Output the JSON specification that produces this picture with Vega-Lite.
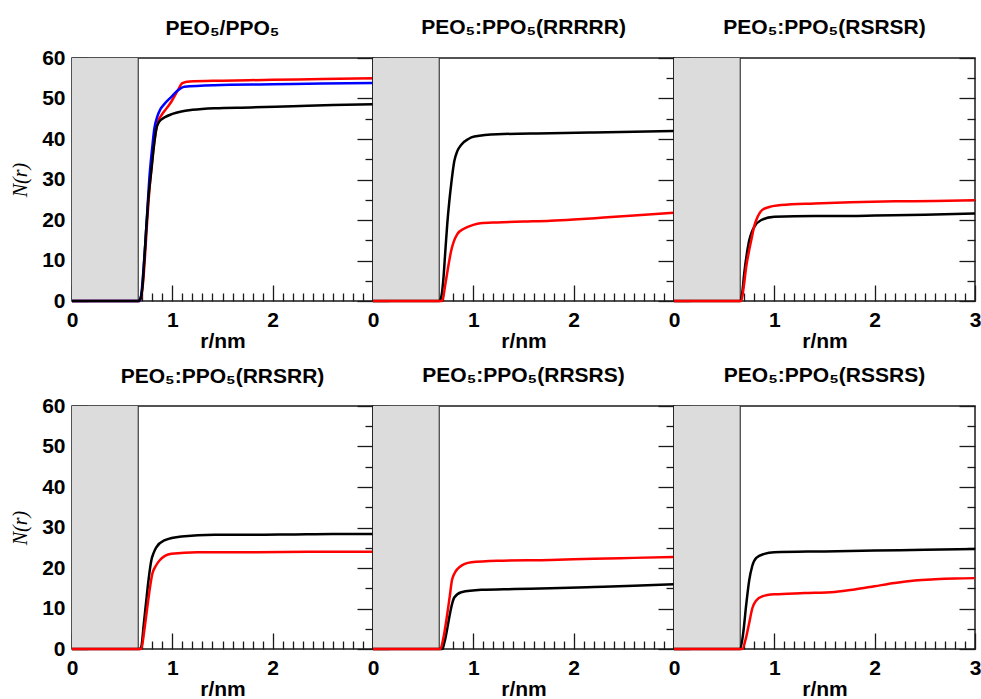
{
  "$schema": "https://vega.github.io/schema/vega-lite/v6.json",
  "bounds": "flush",
  "columns": 3,
  "spacing": {"row": 105, "column": 0},
  "padding": {"left": 9, "top": 16, "right": 0, "bottom": 0},
  "datasets": {
    "excluded": [{"lo": 0, "hi": 0.66}],
    "curves": [
      {"p":1,"s":"set2","r":0,"n":0},{"p":1,"s":"set2","r":0.67,"n":0},{"p":1,"s":"set2","r":0.69,"n":1},{"p":1,"s":"set2","r":0.71,"n":5},{"p":1,"s":"set2","r":0.73,"n":12},{"p":1,"s":"set2","r":0.75,"n":20},{"p":1,"s":"set2","r":0.77,"n":27},{"p":1,"s":"set2","r":0.8,"n":35},{"p":1,"s":"set2","r":0.83,"n":41},{"p":1,"s":"set2","r":0.86,"n":44.5},{"p":1,"s":"set2","r":0.89,"n":45.8},{"p":1,"s":"set2","r":0.94,"n":47.5},{"p":1,"s":"set2","r":0.99,"n":49.2},{"p":1,"s":"set2","r":1.05,"n":51.8},{"p":1,"s":"set2","r":1.1,"n":53.8},{"p":1,"s":"set2","r":1.17,"n":54.2},{"p":1,"s":"set2","r":1.5,"n":54.4},{"p":1,"s":"set2","r":2.0,"n":54.6},{"p":1,"s":"set2","r":2.5,"n":54.8},{"p":1,"s":"set2","r":3.0,"n":55.0},
      {"p":1,"s":"set3","r":0,"n":0},{"p":1,"s":"set3","r":0.67,"n":0},{"p":1,"s":"set3","r":0.69,"n":1.5},{"p":1,"s":"set3","r":0.71,"n":7},{"p":1,"s":"set3","r":0.73,"n":14},{"p":1,"s":"set3","r":0.75,"n":22},{"p":1,"s":"set3","r":0.77,"n":30},{"p":1,"s":"set3","r":0.8,"n":38},{"p":1,"s":"set3","r":0.82,"n":42.5},{"p":1,"s":"set3","r":0.85,"n":45.5},{"p":1,"s":"set3","r":0.88,"n":47.3},{"p":1,"s":"set3","r":0.92,"n":48.6},{"p":1,"s":"set3","r":0.99,"n":50.4},{"p":1,"s":"set3","r":1.05,"n":51.9},{"p":1,"s":"set3","r":1.12,"n":52.9},{"p":1,"s":"set3","r":1.42,"n":53.3},{"p":1,"s":"set3","r":2.0,"n":53.5},{"p":1,"s":"set3","r":2.5,"n":53.7},{"p":1,"s":"set3","r":3.0,"n":53.8},
      {"p":1,"s":"set1","r":0,"n":0},{"p":1,"s":"set1","r":0.66,"n":0},{"p":1,"s":"set1","r":0.68,"n":0.5},{"p":1,"s":"set1","r":0.7,"n":3},{"p":1,"s":"set1","r":0.72,"n":10},{"p":1,"s":"set1","r":0.74,"n":18},{"p":1,"s":"set1","r":0.76,"n":25},{"p":1,"s":"set1","r":0.79,"n":32},{"p":1,"s":"set1","r":0.82,"n":39},{"p":1,"s":"set1","r":0.84,"n":42.5},{"p":1,"s":"set1","r":0.87,"n":44.3},{"p":1,"s":"set1","r":0.92,"n":45.3},{"p":1,"s":"set1","r":1.0,"n":46.2},{"p":1,"s":"set1","r":1.09,"n":46.8},{"p":1,"s":"set1","r":1.2,"n":47.2},{"p":1,"s":"set1","r":1.42,"n":47.6},{"p":1,"s":"set1","r":1.78,"n":47.8},{"p":1,"s":"set1","r":2.2,"n":48.1},{"p":1,"s":"set1","r":2.6,"n":48.4},{"p":1,"s":"set1","r":3.0,"n":48.6},
      {"p":2,"s":"set1","r":0,"n":0},{"p":2,"s":"set1","r":0.66,"n":0},{"p":2,"s":"set1","r":0.68,"n":1},{"p":2,"s":"set1","r":0.7,"n":5},{"p":2,"s":"set1","r":0.72,"n":12},{"p":2,"s":"set1","r":0.74,"n":19},{"p":2,"s":"set1","r":0.76,"n":24.5},{"p":2,"s":"set1","r":0.78,"n":29},{"p":2,"s":"set1","r":0.81,"n":34.5},{"p":2,"s":"set1","r":0.84,"n":37},{"p":2,"s":"set1","r":0.88,"n":38.6},{"p":2,"s":"set1","r":0.95,"n":40},{"p":2,"s":"set1","r":1.01,"n":40.6},{"p":2,"s":"set1","r":1.24,"n":41.2},{"p":2,"s":"set1","r":1.77,"n":41.4},{"p":2,"s":"set1","r":2.2,"n":41.6},{"p":2,"s":"set1","r":2.6,"n":41.8},{"p":2,"s":"set1","r":3.0,"n":42.0},
      {"p":2,"s":"set2","r":0,"n":0},{"p":2,"s":"set2","r":0.69,"n":0},{"p":2,"s":"set2","r":0.72,"n":4},{"p":2,"s":"set2","r":0.75,"n":8.5},{"p":2,"s":"set2","r":0.78,"n":12.5},{"p":2,"s":"set2","r":0.8,"n":14.3},{"p":2,"s":"set2","r":0.84,"n":16.5},{"p":2,"s":"set2","r":0.91,"n":17.9},{"p":2,"s":"set2","r":1.0,"n":18.8},{"p":2,"s":"set2","r":1.07,"n":19.2},{"p":2,"s":"set2","r":1.24,"n":19.4},{"p":2,"s":"set2","r":1.5,"n":19.6},{"p":2,"s":"set2","r":1.77,"n":19.8},{"p":2,"s":"set2","r":2.0,"n":20.1},{"p":2,"s":"set2","r":2.3,"n":20.6},{"p":2,"s":"set2","r":2.6,"n":21.1},{"p":2,"s":"set2","r":3.0,"n":21.8},
      {"p":3,"s":"set1","r":0,"n":0},{"p":3,"s":"set1","r":0.66,"n":0},{"p":3,"s":"set1","r":0.68,"n":2},{"p":3,"s":"set1","r":0.7,"n":6.8},{"p":3,"s":"set1","r":0.725,"n":11.5},{"p":3,"s":"set1","r":0.75,"n":15},{"p":3,"s":"set1","r":0.775,"n":17},{"p":3,"s":"set1","r":0.8,"n":18.3},{"p":3,"s":"set1","r":0.87,"n":20},{"p":3,"s":"set1","r":1.0,"n":20.8},{"p":3,"s":"set1","r":1.4,"n":21.0},{"p":3,"s":"set1","r":1.76,"n":21.0},{"p":3,"s":"set1","r":2.0,"n":21.1},{"p":3,"s":"set1","r":2.5,"n":21.3},{"p":3,"s":"set1","r":3.0,"n":21.6},
      {"p":3,"s":"set2","r":0,"n":0},{"p":3,"s":"set2","r":0.67,"n":0},{"p":3,"s":"set2","r":0.695,"n":3.5},{"p":3,"s":"set2","r":0.72,"n":8.5},{"p":3,"s":"set2","r":0.745,"n":12},{"p":3,"s":"set2","r":0.77,"n":15},{"p":3,"s":"set2","r":0.8,"n":18.5},{"p":3,"s":"set2","r":0.82,"n":20},{"p":3,"s":"set2","r":0.85,"n":21.6},{"p":3,"s":"set2","r":0.88,"n":22.5},{"p":3,"s":"set2","r":0.95,"n":23.2},{"p":3,"s":"set2","r":1.07,"n":23.7},{"p":3,"s":"set2","r":1.4,"n":24.1},{"p":3,"s":"set2","r":1.76,"n":24.4},{"p":3,"s":"set2","r":2.2,"n":24.6},{"p":3,"s":"set2","r":2.6,"n":24.7},{"p":3,"s":"set2","r":3.0,"n":24.9},
      {"p":4,"s":"set1","r":0,"n":0},{"p":4,"s":"set1","r":0.67,"n":0},{"p":4,"s":"set1","r":0.69,"n":0.5},{"p":4,"s":"set1","r":0.715,"n":6},{"p":4,"s":"set1","r":0.74,"n":11.9},{"p":4,"s":"set1","r":0.765,"n":17.5},{"p":4,"s":"set1","r":0.79,"n":21.8},{"p":4,"s":"set1","r":0.815,"n":23.8},{"p":4,"s":"set1","r":0.84,"n":25.1},{"p":4,"s":"set1","r":0.92,"n":26.8},{"p":4,"s":"set1","r":1.09,"n":27.8},{"p":4,"s":"set1","r":1.42,"n":28.2},{"p":4,"s":"set1","r":1.78,"n":28.2},{"p":4,"s":"set1","r":2.2,"n":28.3},{"p":4,"s":"set1","r":2.6,"n":28.4},{"p":4,"s":"set1","r":3.0,"n":28.4},
      {"p":4,"s":"set2","r":0,"n":0},{"p":4,"s":"set2","r":0.69,"n":0},{"p":4,"s":"set2","r":0.72,"n":4.5},{"p":4,"s":"set2","r":0.75,"n":10.2},{"p":4,"s":"set2","r":0.775,"n":14.8},{"p":4,"s":"set2","r":0.8,"n":18.5},{"p":4,"s":"set2","r":0.835,"n":20.5},{"p":4,"s":"set2","r":0.87,"n":21.8},{"p":4,"s":"set2","r":0.99,"n":23.5},{"p":4,"s":"set2","r":1.25,"n":23.9},{"p":4,"s":"set2","r":1.8,"n":23.9},{"p":4,"s":"set2","r":2.4,"n":24.0},{"p":4,"s":"set2","r":3.0,"n":24.0},
      {"p":5,"s":"set1","r":0,"n":0},{"p":5,"s":"set1","r":0.69,"n":0},{"p":5,"s":"set1","r":0.72,"n":2.5},{"p":5,"s":"set1","r":0.76,"n":7.8},{"p":5,"s":"set1","r":0.785,"n":10.8},{"p":5,"s":"set1","r":0.81,"n":12.7},{"p":5,"s":"set1","r":0.88,"n":14.0},{"p":5,"s":"set1","r":1.08,"n":14.6},{"p":5,"s":"set1","r":1.41,"n":14.8},{"p":5,"s":"set1","r":1.77,"n":15.0},{"p":5,"s":"set1","r":2.2,"n":15.3},{"p":5,"s":"set1","r":2.6,"n":15.6},{"p":5,"s":"set1","r":3.0,"n":16.0},
      {"p":5,"s":"set2","r":0,"n":0},{"p":5,"s":"set2","r":0.67,"n":0},{"p":5,"s":"set2","r":0.7,"n":2.5},{"p":5,"s":"set2","r":0.74,"n":8.6},{"p":5,"s":"set2","r":0.765,"n":13},{"p":5,"s":"set2","r":0.79,"n":17.3},{"p":5,"s":"set2","r":0.86,"n":20.2},{"p":5,"s":"set2","r":0.98,"n":21.4},{"p":5,"s":"set2","r":1.24,"n":21.8},{"p":5,"s":"set2","r":1.77,"n":22.0},{"p":5,"s":"set2","r":2.2,"n":22.3},{"p":5,"s":"set2","r":2.6,"n":22.5},{"p":5,"s":"set2","r":3.0,"n":22.7},
      {"p":6,"s":"set1","r":0,"n":0},{"p":6,"s":"set1","r":0.66,"n":0},{"p":6,"s":"set1","r":0.69,"n":4},{"p":6,"s":"set1","r":0.72,"n":11},{"p":6,"s":"set1","r":0.75,"n":17},{"p":6,"s":"set1","r":0.78,"n":20.5},{"p":6,"s":"set1","r":0.82,"n":22.5},{"p":6,"s":"set1","r":0.9,"n":23.5},{"p":6,"s":"set1","r":1.0,"n":23.9},{"p":6,"s":"set1","r":1.5,"n":24.1},{"p":6,"s":"set1","r":2.0,"n":24.3},{"p":6,"s":"set1","r":2.5,"n":24.5},{"p":6,"s":"set1","r":3.0,"n":24.7},
      {"p":6,"s":"set2","r":0,"n":0},{"p":6,"s":"set2","r":0.68,"n":0},{"p":6,"s":"set2","r":0.72,"n":3},{"p":6,"s":"set2","r":0.75,"n":6.5},{"p":6,"s":"set2","r":0.78,"n":10},{"p":6,"s":"set2","r":0.82,"n":12},{"p":6,"s":"set2","r":0.88,"n":13},{"p":6,"s":"set2","r":1.0,"n":13.5},{"p":6,"s":"set2","r":1.3,"n":13.8},{"p":6,"s":"set2","r":1.6,"n":14.1},{"p":6,"s":"set2","r":1.8,"n":14.7},{"p":6,"s":"set2","r":2.0,"n":15.5},{"p":6,"s":"set2","r":2.2,"n":16.3},{"p":6,"s":"set2","r":2.4,"n":16.9},{"p":6,"s":"set2","r":2.6,"n":17.2},{"p":6,"s":"set2","r":2.8,"n":17.4},{"p":6,"s":"set2","r":3.0,"n":17.5}
    ]
  },
  "concat": [
    {
      "width": 301, "height": 243,
      "title": {"text": "PEO₅/PPO₅", "offset": 8},
      "layer": [
        {"data": {"name": "excluded"}, "mark": {"type": "rect", "color": "#dcdcdc"},
         "encoding": {
           "x": {"field": "lo", "type": "quantitative", "scale": {"domain": [0, 3]}, "axis": {"orient": "bottom", "title": "r/nm", "values": [0, 1, 2], "format": "d", "tickSize": -16, "labelPadding": 24, "labelOverlap": false, "labelFlush": false, "titlePadding": 0}},
           "x2": {"field": "hi"},
           "y": {"datum": 0, "type": "quantitative", "scale": {"domain": [0, 60]}, "axis": {"orient": "left", "title": "N(r)", "values": [0, 10, 20, 30, 40, 50, 60], "tickSize": -16, "labelPadding": 23, "labelOverlap": false, "labelFlush": false, "titleFont": "Liberation Serif", "titleFontStyle": "italic", "titleFontWeight": "normal", "titleFontSize": 20, "titlePadding": 11}},
           "y2": {"datum": 60}
         }},
        {"data": {"name": "excluded"}, "mark": {"type": "rule", "color": "#1a1a1a", "strokeWidth": 1},
         "encoding": {
           "x": {"field": "hi", "type": "quantitative", "axis": {"orient": "bottom", "title": null, "labels": false, "values": [0.1,0.2,0.3,0.4,0.5,0.6,0.7,0.8,0.9,1.1,1.2,1.3,1.4,1.5,1.6,1.7,1.8,1.9,2.1,2.2,2.3,2.4,2.5,2.6,2.7,2.8,2.9], "tickSize": -8}},
           "y": {"datum": 0, "type": "quantitative", "axis": {"orient": "left", "title": null, "labels": false, "values": [5, 15, 25, 35, 45, 55], "tickSize": -8}},
           "y2": {"datum": 60}
         }},
        {"data": {"name": "curves"}, "transform": [{"filter": "datum.p == 1 && datum.s != 'set1'"}],
         "mark": {"type": "line", "strokeWidth": 2.5, "interpolate": "monotone"},
         "encoding": {
           "x": {"field": "r", "type": "quantitative", "axis": null},
           "y": {"field": "n", "type": "quantitative", "axis": {"orient": "right", "title": null, "labels": false, "values": [0, 10, 20, 30, 40, 50, 60], "tickSize": -16}},
           "color": {"field": "s", "type": "nominal", "scale": {"domain": ["set1", "set2", "set3"], "range": ["#000000", "#ff0000", "#0000ff"]}, "legend": null}
         }},
        {"data": {"name": "curves"}, "transform": [{"filter": "datum.p == 1 && datum.s == 'set1'"}],
         "mark": {"type": "line", "strokeWidth": 2.5, "interpolate": "monotone"},
         "encoding": {
           "x": {"field": "r", "type": "quantitative", "axis": null},
           "y": {"field": "n", "type": "quantitative", "axis": {"orient": "right", "title": null, "labels": false, "values": [5, 15, 25, 35, 45, 55], "tickSize": -8}},
           "color": {"field": "s", "type": "nominal", "scale": {"domain": ["set1", "set2", "set3"], "range": ["#000000", "#ff0000", "#0000ff"]}, "legend": null}
         }}
      ],
      "resolve": {"axis": {"x": "independent", "y": "independent"}}
    },
    {
      "width": 301, "height": 243,
      "title": {"text": "PEO₅:PPO₅(RRRRR)", "offset": 19},
      "layer": [
        {"data": {"name": "excluded"}, "mark": {"type": "rect", "color": "#dcdcdc"},
         "encoding": {
           "x": {"field": "lo", "type": "quantitative", "scale": {"domain": [0, 3]}, "axis": {"orient": "bottom", "title": "r/nm", "values": [0, 1, 2], "format": "d", "tickSize": -16, "labelPadding": 24, "labelOverlap": false, "labelFlush": false, "titlePadding": 0}},
           "x2": {"field": "hi"},
           "y": {"datum": 0, "type": "quantitative", "scale": {"domain": [0, 60]}, "axis": {"orient": "left", "title": null, "labels": false, "values": [0, 10, 20, 30, 40, 50, 60], "tickSize": -16}},
           "y2": {"datum": 60}
         }},
        {"data": {"name": "excluded"}, "mark": {"type": "rule", "color": "#1a1a1a", "strokeWidth": 1},
         "encoding": {
           "x": {"field": "hi", "type": "quantitative", "axis": {"orient": "bottom", "title": null, "labels": false, "values": [0.1,0.2,0.3,0.4,0.5,0.6,0.7,0.8,0.9,1.1,1.2,1.3,1.4,1.5,1.6,1.7,1.8,1.9,2.1,2.2,2.3,2.4,2.5,2.6,2.7,2.8,2.9], "tickSize": -8}},
           "y": {"datum": 0, "type": "quantitative", "axis": {"orient": "left", "title": null, "labels": false, "values": [5, 15, 25, 35, 45, 55], "tickSize": -8}},
           "y2": {"datum": 60}
         }},
        {"data": {"name": "curves"}, "transform": [{"filter": "datum.p == 2 && datum.s == 'set1'"}],
         "mark": {"type": "line", "strokeWidth": 2.5, "interpolate": "monotone"},
         "encoding": {
           "x": {"field": "r", "type": "quantitative", "axis": null},
           "y": {"field": "n", "type": "quantitative", "axis": {"orient": "right", "title": null, "labels": false, "values": [0, 10, 20, 30, 40, 50, 60], "tickSize": -16}},
           "color": {"field": "s", "type": "nominal", "scale": {"domain": ["set1", "set2", "set3"], "range": ["#000000", "#ff0000", "#0000ff"]}, "legend": null}
         }},
        {"data": {"name": "curves"}, "transform": [{"filter": "datum.p == 2 && datum.s == 'set2'"}],
         "mark": {"type": "line", "strokeWidth": 2.5, "interpolate": "monotone"},
         "encoding": {
           "x": {"field": "r", "type": "quantitative", "axis": null},
           "y": {"field": "n", "type": "quantitative", "axis": {"orient": "right", "title": null, "labels": false, "values": [5, 15, 25, 35, 45, 55], "tickSize": -8}},
           "color": {"field": "s", "type": "nominal", "scale": {"domain": ["set1", "set2", "set3"], "range": ["#000000", "#ff0000", "#0000ff"]}, "legend": null}
         }}
      ],
      "resolve": {"axis": {"x": "independent", "y": "independent"}}
    },
    {
      "width": 301, "height": 243,
      "title": {"text": "PEO₅:PPO₅(RSRSR)", "offset": 19},
      "layer": [
        {"data": {"name": "excluded"}, "mark": {"type": "rect", "color": "#dcdcdc"},
         "encoding": {
           "x": {"field": "lo", "type": "quantitative", "scale": {"domain": [0, 3]}, "axis": {"orient": "bottom", "title": "r/nm", "values": [0, 1, 2, 3], "format": "d", "tickSize": -16, "labelPadding": 24, "labelOverlap": false, "labelFlush": false, "titlePadding": 0}},
           "x2": {"field": "hi"},
           "y": {"datum": 0, "type": "quantitative", "scale": {"domain": [0, 60]}, "axis": {"orient": "left", "title": null, "labels": false, "values": [0, 10, 20, 30, 40, 50, 60], "tickSize": -16}},
           "y2": {"datum": 60}
         }},
        {"data": {"name": "excluded"}, "mark": {"type": "rule", "color": "#1a1a1a", "strokeWidth": 1},
         "encoding": {
           "x": {"field": "hi", "type": "quantitative", "axis": {"orient": "bottom", "title": null, "labels": false, "values": [0.1,0.2,0.3,0.4,0.5,0.6,0.7,0.8,0.9,1.1,1.2,1.3,1.4,1.5,1.6,1.7,1.8,1.9,2.1,2.2,2.3,2.4,2.5,2.6,2.7,2.8,2.9], "tickSize": -8}},
           "y": {"datum": 0, "type": "quantitative", "axis": {"orient": "left", "title": null, "labels": false, "values": [5, 15, 25, 35, 45, 55], "tickSize": -8}},
           "y2": {"datum": 60}
         }},
        {"data": {"name": "curves"}, "transform": [{"filter": "datum.p == 3 && datum.s == 'set1'"}],
         "mark": {"type": "line", "strokeWidth": 2.5, "interpolate": "monotone"},
         "encoding": {
           "x": {"field": "r", "type": "quantitative", "axis": null},
           "y": {"field": "n", "type": "quantitative", "axis": {"orient": "right", "title": null, "labels": false, "values": [0, 10, 20, 30, 40, 50, 60], "tickSize": -16}},
           "color": {"field": "s", "type": "nominal", "scale": {"domain": ["set1", "set2", "set3"], "range": ["#000000", "#ff0000", "#0000ff"]}, "legend": null}
         }},
        {"data": {"name": "curves"}, "transform": [{"filter": "datum.p == 3 && datum.s == 'set2'"}],
         "mark": {"type": "line", "strokeWidth": 2.5, "interpolate": "monotone"},
         "encoding": {
           "x": {"field": "r", "type": "quantitative", "axis": null},
           "y": {"field": "n", "type": "quantitative", "axis": {"orient": "right", "title": null, "labels": false, "values": [5, 15, 25, 35, 45, 55], "tickSize": -8}},
           "color": {"field": "s", "type": "nominal", "scale": {"domain": ["set1", "set2", "set3"], "range": ["#000000", "#ff0000", "#0000ff"]}, "legend": null}
         }}
      ],
      "resolve": {"axis": {"x": "independent", "y": "independent"}}
    },
    {
      "width": 301, "height": 243,
      "title": {"text": "PEO₅:PPO₅(RRSRR)", "offset": 8},
      "layer": [
        {"data": {"name": "excluded"}, "mark": {"type": "rect", "color": "#dcdcdc"},
         "encoding": {
           "x": {"field": "lo", "type": "quantitative", "scale": {"domain": [0, 3]}, "axis": {"orient": "bottom", "title": "r/nm", "values": [0, 1, 2], "format": "d", "tickSize": -16, "labelPadding": 24, "labelOverlap": false, "labelFlush": false, "titlePadding": 0}},
           "x2": {"field": "hi"},
           "y": {"datum": 0, "type": "quantitative", "scale": {"domain": [0, 60]}, "axis": {"orient": "left", "title": "N(r)", "values": [0, 10, 20, 30, 40, 50, 60], "tickSize": -16, "labelPadding": 23, "labelOverlap": false, "labelFlush": false, "titleFont": "Liberation Serif", "titleFontStyle": "italic", "titleFontWeight": "normal", "titleFontSize": 20, "titlePadding": 11}},
           "y2": {"datum": 60}
         }},
        {"data": {"name": "excluded"}, "mark": {"type": "rule", "color": "#1a1a1a", "strokeWidth": 1},
         "encoding": {
           "x": {"field": "hi", "type": "quantitative", "axis": {"orient": "bottom", "title": null, "labels": false, "values": [0.1,0.2,0.3,0.4,0.5,0.6,0.7,0.8,0.9,1.1,1.2,1.3,1.4,1.5,1.6,1.7,1.8,1.9,2.1,2.2,2.3,2.4,2.5,2.6,2.7,2.8,2.9], "tickSize": -8}},
           "y": {"datum": 0, "type": "quantitative", "axis": {"orient": "left", "title": null, "labels": false, "values": [5, 15, 25, 35, 45, 55], "tickSize": -8}},
           "y2": {"datum": 60}
         }},
        {"data": {"name": "curves"}, "transform": [{"filter": "datum.p == 4 && datum.s == 'set1'"}],
         "mark": {"type": "line", "strokeWidth": 2.5, "interpolate": "monotone"},
         "encoding": {
           "x": {"field": "r", "type": "quantitative", "axis": null},
           "y": {"field": "n", "type": "quantitative", "axis": {"orient": "right", "title": null, "labels": false, "values": [0, 10, 20, 30, 40, 50, 60], "tickSize": -16}},
           "color": {"field": "s", "type": "nominal", "scale": {"domain": ["set1", "set2", "set3"], "range": ["#000000", "#ff0000", "#0000ff"]}, "legend": null}
         }},
        {"data": {"name": "curves"}, "transform": [{"filter": "datum.p == 4 && datum.s == 'set2'"}],
         "mark": {"type": "line", "strokeWidth": 2.5, "interpolate": "monotone"},
         "encoding": {
           "x": {"field": "r", "type": "quantitative", "axis": null},
           "y": {"field": "n", "type": "quantitative", "axis": {"orient": "right", "title": null, "labels": false, "values": [5, 15, 25, 35, 45, 55], "tickSize": -8}},
           "color": {"field": "s", "type": "nominal", "scale": {"domain": ["set1", "set2", "set3"], "range": ["#000000", "#ff0000", "#0000ff"]}, "legend": null}
         }}
      ],
      "resolve": {"axis": {"x": "independent", "y": "independent"}}
    },
    {
      "width": 301, "height": 243,
      "title": {"text": "PEO₅:PPO₅(RRSRS)", "offset": 19},
      "layer": [
        {"data": {"name": "excluded"}, "mark": {"type": "rect", "color": "#dcdcdc"},
         "encoding": {
           "x": {"field": "lo", "type": "quantitative", "scale": {"domain": [0, 3]}, "axis": {"orient": "bottom", "title": "r/nm", "values": [0, 1, 2], "format": "d", "tickSize": -16, "labelPadding": 24, "labelOverlap": false, "labelFlush": false, "titlePadding": 0}},
           "x2": {"field": "hi"},
           "y": {"datum": 0, "type": "quantitative", "scale": {"domain": [0, 60]}, "axis": {"orient": "left", "title": null, "labels": false, "values": [0, 10, 20, 30, 40, 50, 60], "tickSize": -16}},
           "y2": {"datum": 60}
         }},
        {"data": {"name": "excluded"}, "mark": {"type": "rule", "color": "#1a1a1a", "strokeWidth": 1},
         "encoding": {
           "x": {"field": "hi", "type": "quantitative", "axis": {"orient": "bottom", "title": null, "labels": false, "values": [0.1,0.2,0.3,0.4,0.5,0.6,0.7,0.8,0.9,1.1,1.2,1.3,1.4,1.5,1.6,1.7,1.8,1.9,2.1,2.2,2.3,2.4,2.5,2.6,2.7,2.8,2.9], "tickSize": -8}},
           "y": {"datum": 0, "type": "quantitative", "axis": {"orient": "left", "title": null, "labels": false, "values": [5, 15, 25, 35, 45, 55], "tickSize": -8}},
           "y2": {"datum": 60}
         }},
        {"data": {"name": "curves"}, "transform": [{"filter": "datum.p == 5 && datum.s == 'set1'"}],
         "mark": {"type": "line", "strokeWidth": 2.5, "interpolate": "monotone"},
         "encoding": {
           "x": {"field": "r", "type": "quantitative", "axis": null},
           "y": {"field": "n", "type": "quantitative", "axis": {"orient": "right", "title": null, "labels": false, "values": [0, 10, 20, 30, 40, 50, 60], "tickSize": -16}},
           "color": {"field": "s", "type": "nominal", "scale": {"domain": ["set1", "set2", "set3"], "range": ["#000000", "#ff0000", "#0000ff"]}, "legend": null}
         }},
        {"data": {"name": "curves"}, "transform": [{"filter": "datum.p == 5 && datum.s == 'set2'"}],
         "mark": {"type": "line", "strokeWidth": 2.5, "interpolate": "monotone"},
         "encoding": {
           "x": {"field": "r", "type": "quantitative", "axis": null},
           "y": {"field": "n", "type": "quantitative", "axis": {"orient": "right", "title": null, "labels": false, "values": [5, 15, 25, 35, 45, 55], "tickSize": -8}},
           "color": {"field": "s", "type": "nominal", "scale": {"domain": ["set1", "set2", "set3"], "range": ["#000000", "#ff0000", "#0000ff"]}, "legend": null}
         }}
      ],
      "resolve": {"axis": {"x": "independent", "y": "independent"}}
    },
    {
      "width": 301, "height": 243,
      "title": {"text": "PEO₅:PPO₅(RSSRS)", "offset": 19},
      "layer": [
        {"data": {"name": "excluded"}, "mark": {"type": "rect", "color": "#dcdcdc"},
         "encoding": {
           "x": {"field": "lo", "type": "quantitative", "scale": {"domain": [0, 3]}, "axis": {"orient": "bottom", "title": "r/nm", "values": [0, 1, 2, 3], "format": "d", "tickSize": -16, "labelPadding": 24, "labelOverlap": false, "labelFlush": false, "titlePadding": 0}},
           "x2": {"field": "hi"},
           "y": {"datum": 0, "type": "quantitative", "scale": {"domain": [0, 60]}, "axis": {"orient": "left", "title": null, "labels": false, "values": [0, 10, 20, 30, 40, 50, 60], "tickSize": -16}},
           "y2": {"datum": 60}
         }},
        {"data": {"name": "excluded"}, "mark": {"type": "rule", "color": "#1a1a1a", "strokeWidth": 1},
         "encoding": {
           "x": {"field": "hi", "type": "quantitative", "axis": {"orient": "bottom", "title": null, "labels": false, "values": [0.1,0.2,0.3,0.4,0.5,0.6,0.7,0.8,0.9,1.1,1.2,1.3,1.4,1.5,1.6,1.7,1.8,1.9,2.1,2.2,2.3,2.4,2.5,2.6,2.7,2.8,2.9], "tickSize": -8}},
           "y": {"datum": 0, "type": "quantitative", "axis": {"orient": "left", "title": null, "labels": false, "values": [5, 15, 25, 35, 45, 55], "tickSize": -8}},
           "y2": {"datum": 60}
         }},
        {"data": {"name": "curves"}, "transform": [{"filter": "datum.p == 6 && datum.s == 'set1'"}],
         "mark": {"type": "line", "strokeWidth": 2.5, "interpolate": "monotone"},
         "encoding": {
           "x": {"field": "r", "type": "quantitative", "axis": null},
           "y": {"field": "n", "type": "quantitative", "axis": {"orient": "right", "title": null, "labels": false, "values": [0, 10, 20, 30, 40, 50, 60], "tickSize": -16}},
           "color": {"field": "s", "type": "nominal", "scale": {"domain": ["set1", "set2", "set3"], "range": ["#000000", "#ff0000", "#0000ff"]}, "legend": null}
         }},
        {"data": {"name": "curves"}, "transform": [{"filter": "datum.p == 6 && datum.s == 'set2'"}],
         "mark": {"type": "line", "strokeWidth": 2.5, "interpolate": "monotone"},
         "encoding": {
           "x": {"field": "r", "type": "quantitative", "axis": null},
           "y": {"field": "n", "type": "quantitative", "axis": {"orient": "right", "title": null, "labels": false, "values": [5, 15, 25, 35, 45, 55], "tickSize": -8}},
           "color": {"field": "s", "type": "nominal", "scale": {"domain": ["set1", "set2", "set3"], "range": ["#000000", "#ff0000", "#0000ff"]}, "legend": null}
         }}
      ],
      "resolve": {"axis": {"x": "independent", "y": "independent"}}
    }
  ],
  "config": {
    "view": {"stroke": "#1a1a1a", "strokeWidth": 1.5},
    "font": "Liberation Sans",
    "title": {"font": "Liberation Sans", "fontSize": 21, "fontWeight": "bold", "color": "black", "frame": "group"},
    "axis": {"domain": false, "grid": false, "tickColor": "#1a1a1a", "tickWidth": 1.3, "labelFont": "Liberation Sans", "labelFontSize": 21, "labelFontWeight": "bold", "labelColor": "black", "titleFont": "Liberation Sans", "titleFontSize": 21, "titleFontWeight": "bold", "titleColor": "black"}
  }
}
